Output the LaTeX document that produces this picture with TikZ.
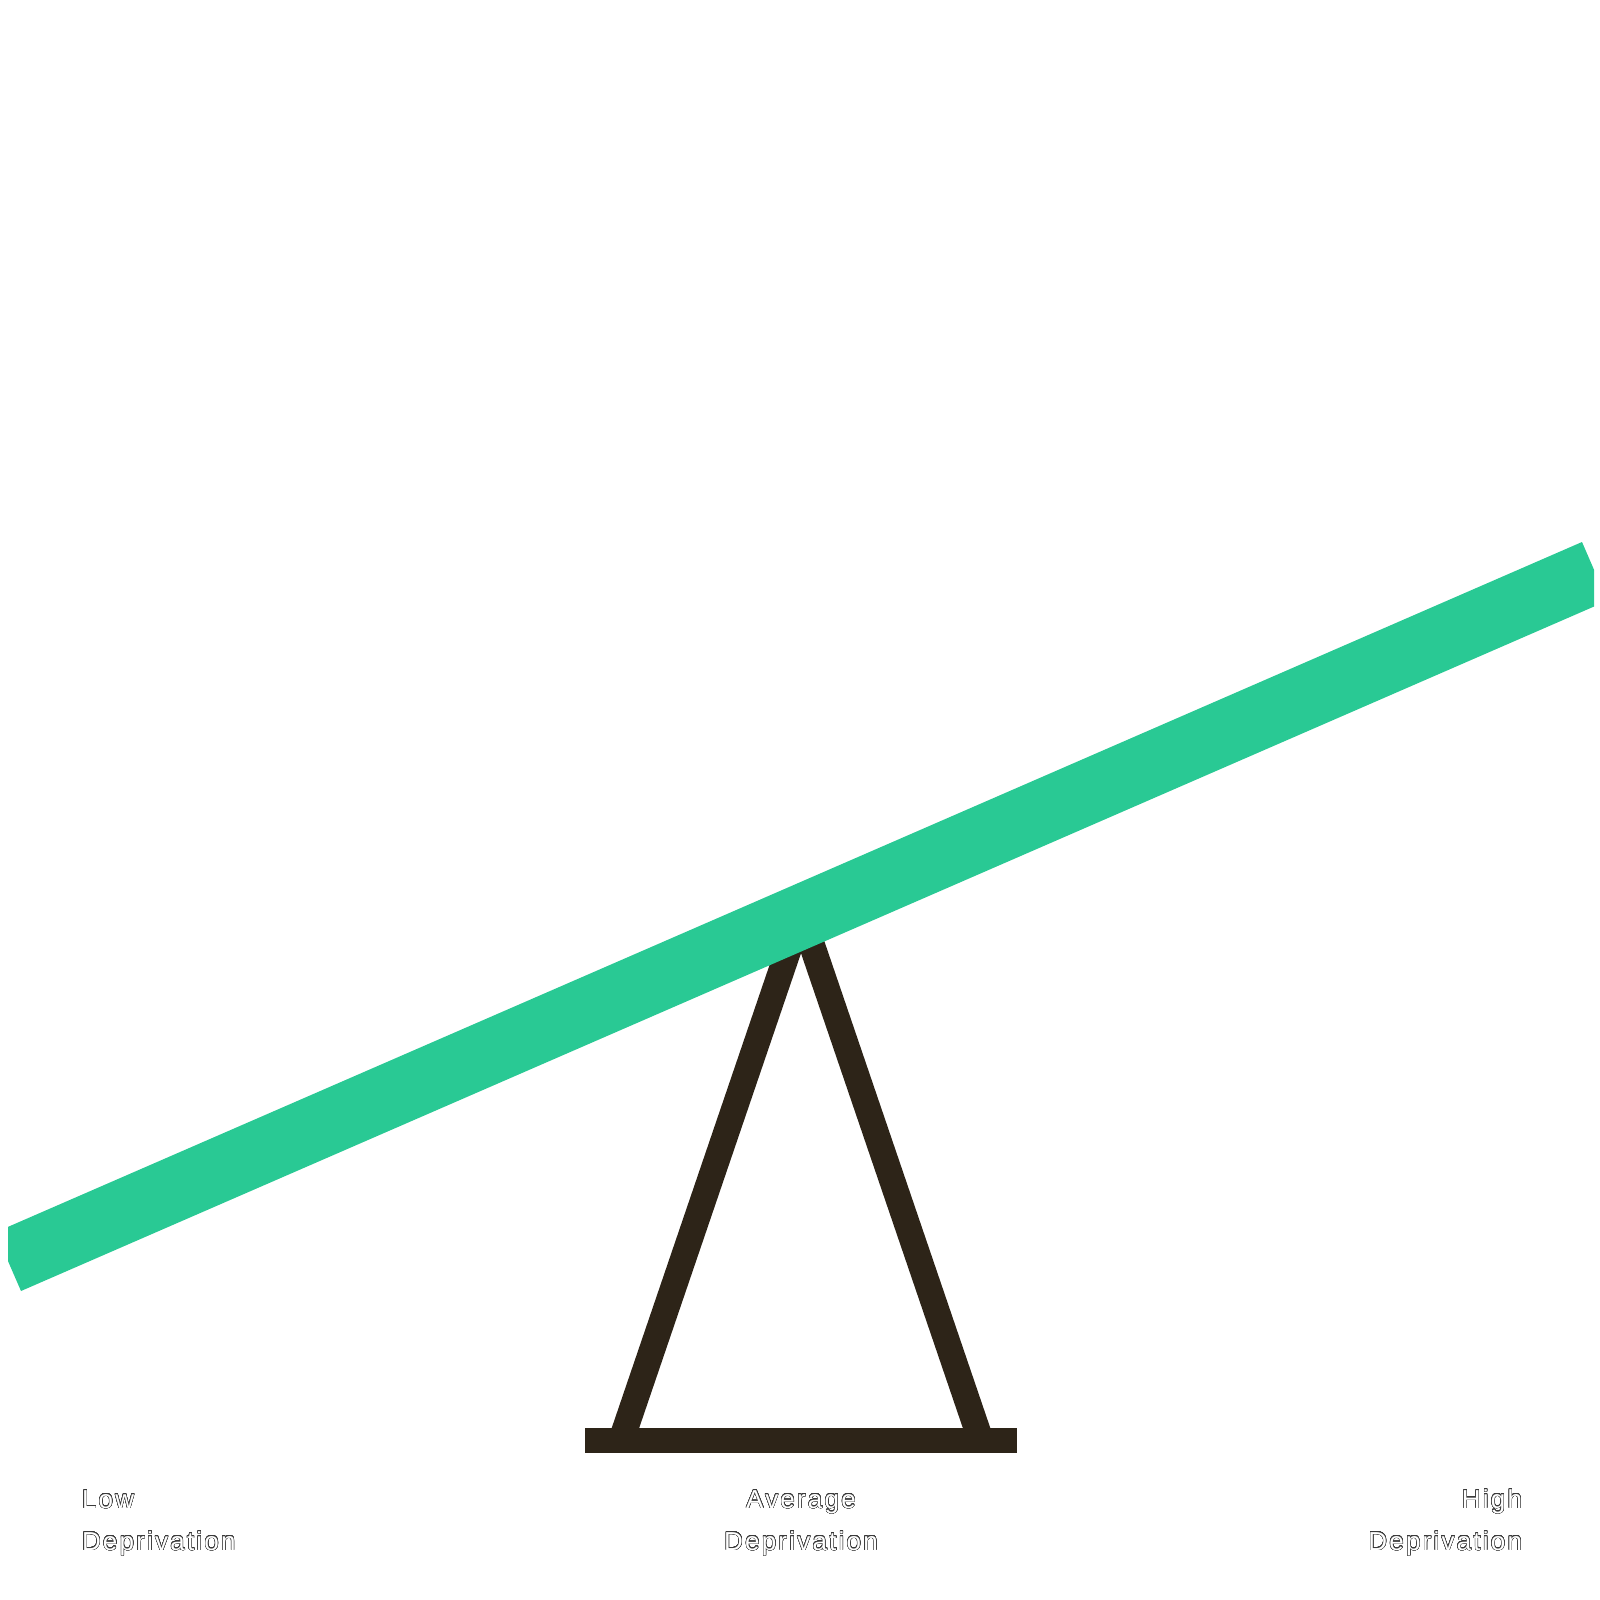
\documentclass[tikz,border=0pt]{standalone}
\usepackage{fontspec}
\setmainfont{Liberation Sans}
\usepackage{contour}
\contourlength{0.4pt}
\contournumber{32}
\definecolor{beamgreen}{HTML}{29C994}
\definecolor{standbrown}{HTML}{2D2418}
\definecolor{outlinegray}{HTML}{3A3A3A}
\newcommand{\outl}[1]{\contour{outlinegray}{#1}}
\tikzset{
  beam/.style={fill=beamgreen},
  leg/.style={draw=standbrown, line width=26pt, line cap=butt, line join=bevel},
  basebar/.style={fill=standbrown},
  lbl/.style={inner sep=0pt, outer sep=0pt, text=white,
    font=\fontsize{26}{30}\selectfont\addfontfeature{LetterSpace=8.5}}
}
\begin{document}
\begin{tikzpicture}[x=1pt, y=-1pt]
\useasboundingbox (0,0) rectangle (1600,1600);
% fulcrum
\draw[leg] (621,1441) -- (801,913) -- (981,1441);
\fill[basebar] (585,1428) rectangle (1017,1453);
% beam
\begin{scope}
\clip (8,0) rectangle (1594,1600);
\fill[beam] (21,1291) -- (1607.4,600.7) -- (1582,542) -- (-4.5,1232.3) -- cycle;
\end{scope}
% labels
\node[lbl, anchor=base west] (low1) at (82,1508) {\outl{Low}};
\node[lbl, anchor=base west] (low2) at (82,1550) {\outl{Deprivation}};
\node[lbl, anchor=base] (avg1) at (801,1508) {\outl{Average}};
\node[lbl, anchor=base] (avg2) at (801,1550) {\outl{Deprivation}};
\node[lbl, anchor=base east] (high1) at (1522,1508) {\outl{High}};
\node[lbl, anchor=base east] (high2) at (1522,1550) {\outl{Deprivation}};
\end{tikzpicture}
\end{document}
